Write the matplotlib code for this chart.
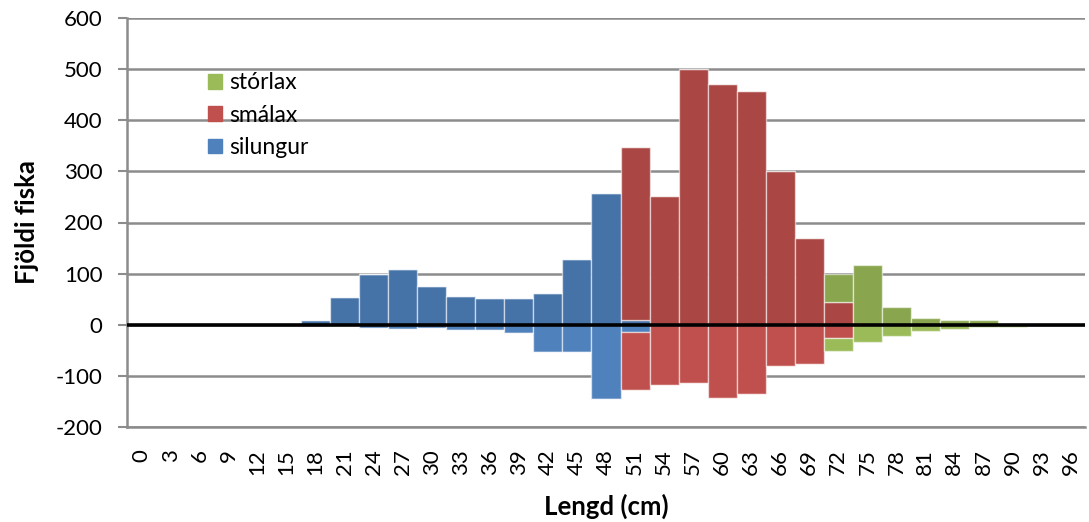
import matplotlib
matplotlib.use("Agg")
import matplotlib.pyplot as plt
import numpy as np
from matplotlib.patches import Patch

#%% Data
Lengd = list(range(0, 97, 3))

Silungur_Pos = [0, 0, 0, 0, 0, 0, 9, 54, 100, 110, 75, 57, 53, 52, 63, 129, 258, 9,
                0, 0, 0, 0, 0, 0, 0, 0, 0, 0, 0, 0, 0, 0, 0]
Silungur_Neg = [0, 0, 0, 0, 0, 0, 0, -3, -6, -9, -7, -10, -10, -17, -53, -53, -146, -14,
                0, 0, 0, 0, 0, 0, 0, 0, 0, 0, 0, 0, 0, 0, 0]
Smalax_Pos = [0, 0, 0, 0, 0, 0, 0, 0, 0, 0, 0, 0, 0, 0, 0, 0, 0, 338,
              251, 500, 470, 457, 300, 170, 45, 0, 0, 0, 0, 0, 0, 0, 0]
Smalax_Neg = [0, 0, 0, 0, 0, 0, 0, 0, 0, 0, 0, 0, 0, 0, 0, 0, 0, -113,
              -118, -113, -143, -136, -80, -76, -25, 0, 0, 0, 0, 0, 0, 0, 0]
Storlax_Pos = [0, 0, 0, 0, 0, 0, 0, 0, 0, 0, 0, 0, 0, 0, 0, 0, 0, 0,
               0, 0, 0, 0, 0, 0, 55, 117, 34, 13, 10, 10, 1, 0, 0]
Storlax_Neg = [0, 0, 0, 0, 0, 0, 0, 0, 0, 0, 0, 0, 0, 0, 0, 0, 0, 0,
               0, 0, 0, 0, 0, 0, -26, -34, -22, -12, -8, -5, -5, 0, 0]

Legend_Names = ["stórlax", "smálax", "silungur"]

#%% Style
FontName = "Lato"
FontSize_Tick = 16
FontSize_Legend = 16.5
FontSize_Label = 18.5

Color_Blue_Pos, Color_Blue_Neg = "#4572A7", "#4F81BD"
Color_Red_Pos, Color_Red_Neg = "#AA4643", "#C0504D"
Color_Green_Pos, Color_Green_Neg = "#89A54E", "#9BBB59"
Grid_Color = "#8C8C8C"

plt.rcParams["font.family"] = [FontName, "DejaVu Sans"]
plt.rcParams["axes.unicode_minus"] = False

Fig = plt.figure(figsize=[10.89, 5.22], dpi=100)
ax = Fig.add_axes([127 / 1089, 95 / 522, 958 / 1089, 409 / 522])

x = np.arange(len(Lengd))
Bar_Kw = dict(width=1.0, edgecolor=(1, 1, 1, 0.55), linewidth=1.0, zorder=2)

sil_p = np.array(Silungur_Pos)
sma_p = np.array(Smalax_Pos)
sto_p = np.array(Storlax_Pos)
sil_n = np.array(Silungur_Neg)
sma_n = np.array(Smalax_Neg)
sto_n = np.array(Storlax_Neg)

# positive stack
ax.bar(x, sil_p, color=Color_Blue_Pos, **Bar_Kw)
ax.bar(x, sma_p, bottom=sil_p, color=Color_Red_Pos, **Bar_Kw)
ax.bar(x, sto_p, bottom=sil_p + sma_p, color=Color_Green_Pos, **Bar_Kw)

# negative stack
ax.bar(x, sil_n, color=Color_Blue_Neg, **Bar_Kw)
ax.bar(x, sma_n, bottom=sil_n, color=Color_Red_Neg, **Bar_Kw)
ax.bar(x, sto_n, bottom=sil_n + sma_n, color=Color_Green_Neg, **Bar_Kw)

# zero line
ax.axhline(0, color="black", linewidth=2.6, zorder=5)

# Y axis
ax.set_ylim(-200, 600)
ax.set_yticks(np.arange(-200, 601, 100))
ax.yaxis.grid(True, color=Grid_Color, linewidth=1.8, zorder=0)
ax.set_axisbelow(True)
ax.tick_params(axis="y", direction="out", length=6.5, width=1.5, color=Grid_Color,
               pad=11, labelsize=FontSize_Tick)

# X axis
ax.set_xlim(-0.5, len(Lengd) - 0.5)
ax.set_xticks(x)
ax.set_xticklabels([str(v) for v in Lengd], rotation=90, fontsize=FontSize_Tick)
ax.tick_params(axis="x", length=0, pad=16)

for side in ["top", "right"]:
    ax.spines[side].set_visible(False)
ax.spines[["left", "bottom"]].set_color(Grid_Color)
ax.spines[["left", "bottom"]].set_linewidth(1.8)

ax.set_ylabel("Fjöldi fiska", fontsize=FontSize_Label, fontweight="bold")
ax.set_xlabel("Lengd (cm)", fontsize=FontSize_Label, fontweight="bold")
ax.yaxis.set_label_coords(-0.092, 0.5)
ax.xaxis.set_label_coords(0.5, -0.163)

# legend
Handles = [Patch(color=Color_Green_Neg), Patch(color=Color_Red_Neg), Patch(color=Color_Blue_Neg)]
ax.legend(Handles, Legend_Names, loc="upper left",
          bbox_to_anchor=(199 / 1089, 1 - 63 / 522), bbox_transform=Fig.transFigure,
          frameon=False, fontsize=FontSize_Legend, handlelength=0.62, handleheight=0.62,
          handletextpad=0.3, labelspacing=0.5, borderaxespad=0)

Fig.savefig("out.png", dpi=100)
